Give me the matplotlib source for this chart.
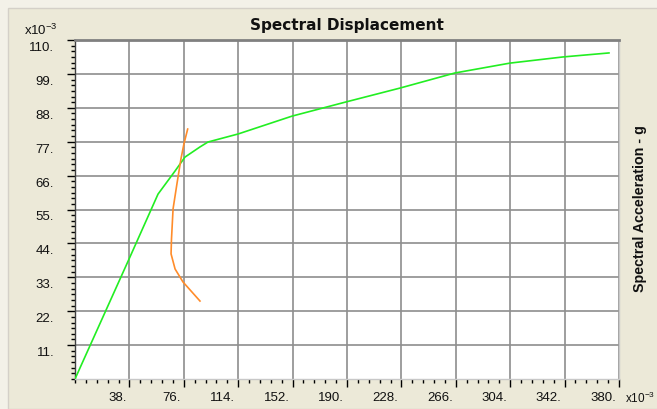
import matplotlib
matplotlib.use("Agg")
import matplotlib.pyplot as plt
from matplotlib.ticker import AutoMinorLocator
from matplotlib.patches import Rectangle
from matplotlib.transforms import ScaledTranslation

plt.rcParams['font.family'] = ['Liberation Sans', 'DejaVu Sans']

# Capacity curve (green)
cap_sd = [0.0, 38.4, 58.0, 69.9, 76.8, 87.3, 92.9, 113.9, 151.6, 189.3, 227.0, 265.4, 303.8, 340.9, 373.0]
cap_sa = [0.0, 39.6, 60.0, 67.5, 72.0, 75.3, 76.9, 79.5, 85.3, 89.9, 94.4, 99.3, 102.5, 104.5, 105.8]

# Demand curve (orange)
dem_sd = [78.7, 76.1, 74.0, 71.2, 68.5, 67.4, 67.1, 69.9, 75.4, 87.3]
dem_sa = [81.1, 76.3, 71.4, 63.3, 55.2, 45.4, 40.6, 35.7, 31.5, 25.3]

x_ticks = [38, 76, 114, 152, 190, 228, 266, 304, 342, 380]
y_ticks = [11, 22, 33, 44, 55, 66, 77, 88, 99, 110]

title = "Spectral Displacement"
ylabel = "Spectral Acceleration - g"

W, H = 657, 410
fig = plt.figure(figsize=(W / 100, H / 100), dpi=100)
fig.patch.set_facecolor('#F3F1E8')
fig.patches.append(Rectangle((8 / W, 0), 1, (H - 9) / H, transform=fig.transFigure,
                             facecolor='#ECE9D8', edgecolor='#D4D0C8', lw=1.0, zorder=-10))

ax = fig.add_axes([75 / W, 30 / H, 544 / W, 339 / H])
ax.set_facecolor('white')
ax.set_xlim(0, 380)
ax.set_ylim(0, 110)

ax.plot(cap_sd, cap_sa, color='#22EE22', lw=1.2, zorder=3)
ax.plot(dem_sd, dem_sa, color='#FF8C2A', lw=1.2, zorder=3)

ax.set_xticks(x_ticks)
ax.set_xticklabels([f"{v}." for v in x_ticks])
ax.set_yticks(y_ticks)
ax.set_yticklabels([f"{v}." for v in y_ticks])
ax.xaxis.set_minor_locator(AutoMinorLocator(5))
ax.yaxis.set_minor_locator(AutoMinorLocator(6))

ax.grid(True, which='major', color='#8E8E8E', lw=1.2, zorder=1)
ax.set_axisbelow(True)

ax.tick_params(axis='both', which='major', direction='out', length=6, width=1.0,
               color='black', labelsize=9.5, labelcolor='#111111')
ax.tick_params(axis='both', which='minor', direction='out', length=3, width=1.0, color='black')
ax.tick_params(axis='x', which='major', pad=3)
ax.tick_params(axis='y', which='major', pad=9)
xoff = ScaledTranslation(-3 / 100, 0, fig.dpi_scale_trans)
for lab in ax.get_xticklabels():
    lab.set_horizontalalignment('right')
    lab.set_transform(lab.get_transform() + xoff)
yoff = ScaledTranslation(0, -1 / 100, fig.dpi_scale_trans)
for lab in ax.get_yticklabels():
    lab.set_verticalalignment('top')
    lab.set_transform(lab.get_transform() + yoff)

ax.spines['top'].set_color('#808080')
ax.spines['top'].set_linewidth(2.0)
ax.spines['right'].set_color('#C8C8C8')
ax.spines['right'].set_linewidth(1.0)
ax.spines['left'].set_color('#404040')
ax.spines['left'].set_linewidth(1.0)
ax.spines['bottom'].set_color('#C8C8C8')
ax.spines['bottom'].set_linewidth(1.0)

fig.text(347 / W, 1 - 25.5 / H, title, ha='center', va='center', fontsize=11,
         fontweight='bold', color='#111111', family='DejaVu Sans')
fig.text(640 / W, 1 - 209 / H, ylabel, ha='center', va='center', rotation=90,
         fontsize=10.3, fontweight='bold', color='#111111')
fig.text(24 / W, 1 - 30 / H, r'x10$^{\mathregular{-3}}$', ha='left', va='center',
         fontsize=9.5, color='#111111')
fig.text(655 / W, 1 - 398 / H, r'x10$^{\mathregular{-3}}$', ha='right', va='center',
         fontsize=8.5, color='#111111')

fig.savefig('out.png', dpi=100, facecolor=fig.get_facecolor())
